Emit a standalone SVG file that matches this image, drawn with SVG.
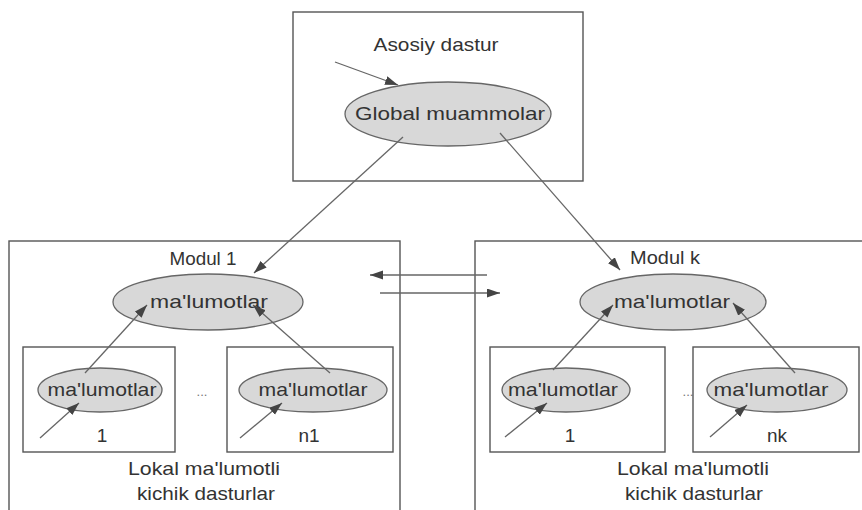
<svg xmlns="http://www.w3.org/2000/svg" width="862" height="510" viewBox="0 0 862 510">
<defs>
<marker id="ah" markerUnits="userSpaceOnUse" markerWidth="14" markerHeight="10" refX="13" refY="4.5" orient="auto">
<path d="M0,0 L13,4.5 L0,9 z" fill="#444"/>
</marker>
<style>
.box{fill:none;stroke:#555;stroke-width:1.4}
.ell{fill:#d8d8d8;stroke:#666;stroke-width:1.3}
.t{font-family:"Liberation Sans",Arial,sans-serif;font-size:19px;fill:#333;text-anchor:middle}
.dots{font-family:"Liberation Sans",Arial,sans-serif;font-size:13px;fill:#777;text-anchor:middle}
.c{stroke:#666;stroke-width:1.3;fill:none;marker-end:url(#ah)}
</style>
</defs>
<rect width="862" height="510" fill="#fff"/>

<g id="asosiy">
<rect class="box" x="293" y="12" width="290" height="169"/>
<text class="t" x="436" y="51" textLength="125" lengthAdjust="spacingAndGlyphs">Asosiy dastur</text>
<ellipse class="ell" cx="448" cy="114" rx="103" ry="32"/>
<text class="t" x="450" y="120" textLength="190" lengthAdjust="spacingAndGlyphs">Global muammolar</text>
</g>

<g id="modul1">
<rect class="box" x="9" y="241" width="391" height="280"/>
<text class="t" x="203" y="265" textLength="67" lengthAdjust="spacingAndGlyphs">Modul 1</text>
<ellipse class="ell" cx="208" cy="302" rx="95" ry="28"/>
<text class="t" x="209" y="308" textLength="118" lengthAdjust="spacingAndGlyphs">ma'lumotlar</text>
<text class="dots" x="202" y="396">...</text>
<text class="t" x="204" y="475" textLength="152" lengthAdjust="spacingAndGlyphs">Lokal ma'lumotli</text>
<text class="t" x="206" y="500" textLength="138" lengthAdjust="spacingAndGlyphs">kichik dasturlar</text>
</g>

<g id="m1-sub1">
<rect class="box" x="23" y="347" width="152" height="105"/>
<ellipse class="ell" cx="100" cy="390" rx="62" ry="22"/>
<text class="t" x="102" y="396" textLength="109" lengthAdjust="spacingAndGlyphs">ma'lumotlar</text>
<text class="t" x="102" y="442">1</text>
</g>

<g id="m1-subn1">
<rect class="box" x="227" y="347" width="166" height="105"/>
<ellipse class="ell" cx="313" cy="390" rx="74" ry="22"/>
<text class="t" x="313" y="396" textLength="109" lengthAdjust="spacingAndGlyphs">ma'lumotlar</text>
<text class="t" x="309" y="442">n1</text>
</g>

<g id="modulk">
<rect class="box" x="475" y="241" width="400" height="280"/>
<text class="t" x="665" y="264" textLength="70" lengthAdjust="spacingAndGlyphs">Modul k</text>
<ellipse class="ell" cx="673" cy="302" rx="93" ry="28"/>
<text class="t" x="672" y="308" textLength="116" lengthAdjust="spacingAndGlyphs">ma'lumotlar</text>
<text class="dots" x="688" y="396">...</text>
<text class="t" x="693" y="475" textLength="152" lengthAdjust="spacingAndGlyphs">Lokal ma'lumotli</text>
<text class="t" x="694" y="500" textLength="138" lengthAdjust="spacingAndGlyphs">kichik dasturlar</text>
</g>

<g id="mk-sub1">
<rect class="box" x="490" y="347" width="175" height="105"/>
<ellipse class="ell" cx="566" cy="390" rx="64" ry="22"/>
<text class="t" x="563" y="396" textLength="110" lengthAdjust="spacingAndGlyphs">ma'lumotlar</text>
<text class="t" x="570" y="442">1</text>
</g>

<g id="mk-subk">
<rect class="box" x="693" y="347" width="166" height="105"/>
<ellipse class="ell" cx="777" cy="390" rx="70" ry="22"/>
<text class="t" x="771" y="396" textLength="115" lengthAdjust="spacingAndGlyphs">ma'lumotlar</text>
<text class="t" x="777" y="442">nk</text>
</g>

<g id="connectors">
<line class="c" x1="335" y1="62" x2="398" y2="85"/>
<line class="c" x1="403" y1="137" x2="254" y2="273"/>
<line class="c" x1="500" y1="133" x2="620" y2="270"/>
<line class="c" x1="487" y1="275" x2="370" y2="275"/>
<line class="c" x1="380" y1="293" x2="500" y2="293"/>
<line class="c" x1="85" y1="373" x2="147" y2="305"/>
<line class="c" x1="330" y1="373" x2="253" y2="305"/>
<line class="c" x1="40" y1="438" x2="79" y2="403"/>
<line class="c" x1="240" y1="438" x2="282" y2="403"/>
<line class="c" x1="553" y1="370" x2="613" y2="305"/>
<line class="c" x1="795" y1="373" x2="733" y2="303"/>
<line class="c" x1="505" y1="437" x2="547" y2="403"/>
<line class="c" x1="710" y1="437" x2="747" y2="405"/>
</g>
</svg>
